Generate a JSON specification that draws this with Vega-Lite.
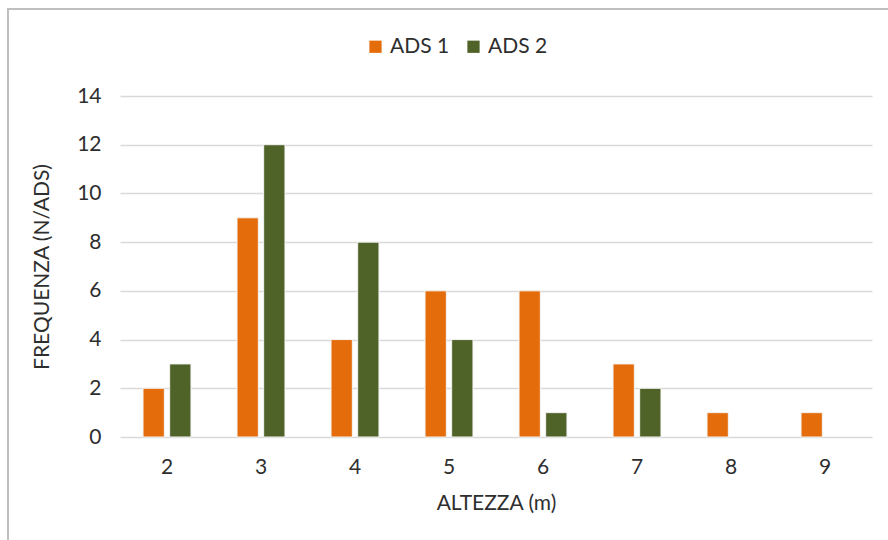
{
  "$schema": "https://vega.github.io/schema/vega-lite/v6.json",
  "description": "Frequenza delle altezze (m) per le aree di saggio ADS 1 e ADS 2",
  "width": 890,
  "height": 540,
  "autosize": {"type": "none"},
  "padding": {"left": 8, "top": 9, "right": 0, "bottom": 0},
  "background": "#ffffff",
  "config": {
    "view": {"stroke": "#bfbfbf", "strokeWidth": 2},
    "font": "Lato",
    "axis": {
      "labelFont": "Lato",
      "titleFont": "Lato",
      "labelColor": "#2e2e2e",
      "titleColor": "#2e2e2e",
      "labelFontSize": 21,
      "titleFontSize": 21,
      "titleFontWeight": "normal"
    },
    "legend": {"labelFont": "Lato", "labelColor": "#2e2e2e", "labelFontSize": 21}
  },
  "data": {
    "values": [
      {"altezza": 2, "serie": "ADS 1", "freq": 2},
      {"altezza": 2, "serie": "ADS 2", "freq": 3},
      {"altezza": 3, "serie": "ADS 1", "freq": 9},
      {"altezza": 3, "serie": "ADS 2", "freq": 12},
      {"altezza": 4, "serie": "ADS 1", "freq": 4},
      {"altezza": 4, "serie": "ADS 2", "freq": 8},
      {"altezza": 5, "serie": "ADS 1", "freq": 6},
      {"altezza": 5, "serie": "ADS 2", "freq": 4},
      {"altezza": 6, "serie": "ADS 1", "freq": 6},
      {"altezza": 6, "serie": "ADS 2", "freq": 1},
      {"altezza": 7, "serie": "ADS 1", "freq": 3},
      {"altezza": 7, "serie": "ADS 2", "freq": 2},
      {"altezza": 8, "serie": "ADS 1", "freq": 1},
      {"altezza": 9, "serie": "ADS 1", "freq": 1}
    ]
  },
  "mark": {"type": "bar", "stroke": "#f4f4f4", "strokeWidth": 1},
  "encoding": {
    "x": {
      "field": "altezza",
      "type": "ordinal",
      "scale": {"domain": [2, 3, 4, 5, 6, 7, 8, 9], "range": [112, 864], "paddingInner": 0.49, "paddingOuter": 0.245},
      "axis": {
        "title": "ALTEZZA (m)",
        "orient": "bottom",
        "offset": -112,
        "labelAngle": 0,
        "domain": false,
        "ticks": false,
        "grid": false,
        "labelPadding": 19,
        "titlePadding": 15
      }
    },
    "xOffset": {"field": "serie", "scale": {"paddingInner": 0.2, "paddingOuter": 0}},
    "y": {
      "field": "freq",
      "type": "quantitative",
      "scale": {"domain": [0, 14], "range": [428, 87], "nice": false, "zero": true},
      "axis": {
        "title": "FREQUENZA (N/ADS)",
        "offset": -112,
        "values": [0, 2, 4, 6, 8, 10, 12, 14],
        "domain": false,
        "ticks": false,
        "grid": true,
        "gridColor": "#d9d9d9",
        "gridWidth": 1.5,
        "labelPadding": 19,
        "titlePadding": 24
      }
    },
    "color": {
      "field": "serie",
      "type": "nominal",
      "scale": {"domain": ["ADS 1", "ADS 2"], "range": ["#E46C0A", "#4F6228"]},
      "legend": {
        "title": null,
        "orient": "none",
        "direction": "horizontal",
        "legendX": 357,
        "legendY": 27,
        "symbolType": "square",
        "symbolSize": 150,
        "symbolStrokeWidth": 0,
        "columnPadding": 13,
        "labelOffset": 4
      }
    }
  }
}
